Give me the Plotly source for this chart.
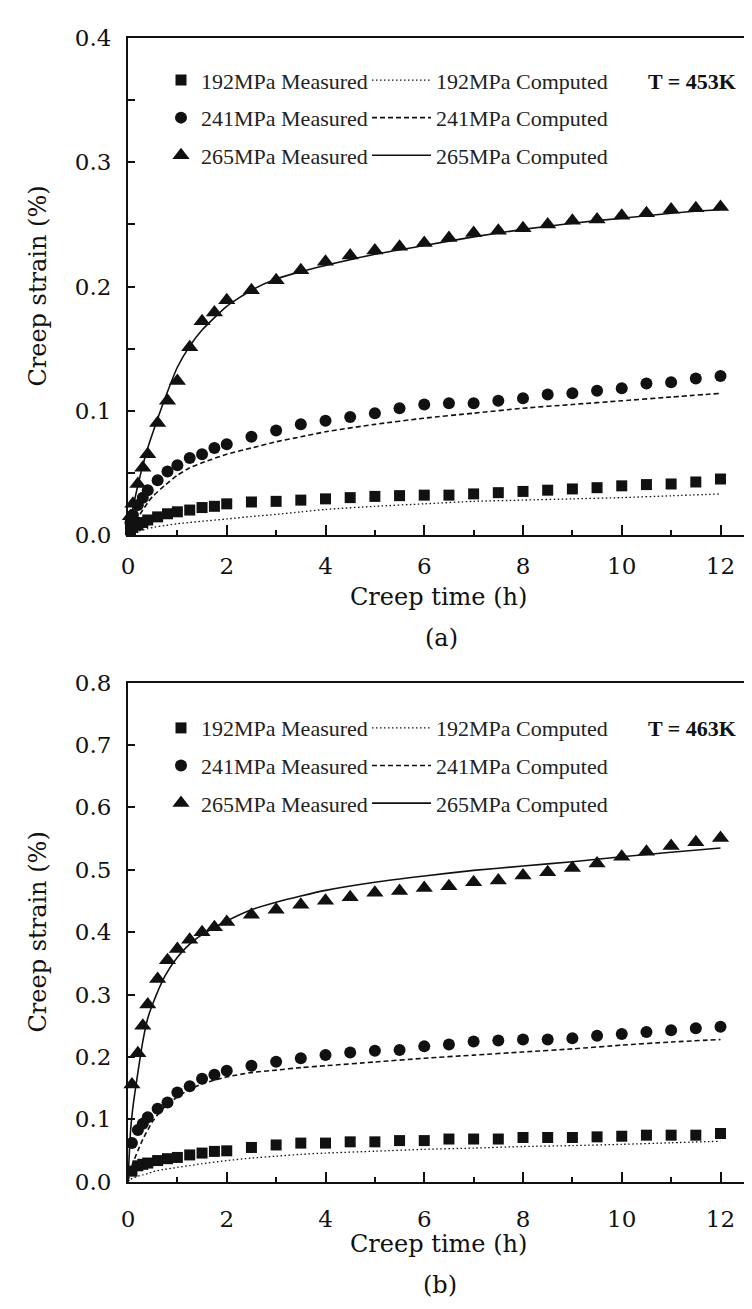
import plotly.graph_objects as go

# ---------------- data ----------------
# Panel (a): T = 453K
t_meas_a = [0.05, 0.1, 0.2, 0.3, 0.4, 0.6, 0.8, 1.0, 1.25, 1.5, 1.75,
            2.0, 2.5, 3.0, 3.5, 4.0, 4.5, 5.0, 5.5, 6.0, 6.5, 7.0, 7.5,
            8.0, 8.5, 9.0, 9.5, 10.0, 10.5, 11.0, 11.5, 12.0]
meas_192_a = [0.004, 0.006, 0.008, 0.010, 0.012, 0.0145, 0.017, 0.0186, 0.020, 0.022, 0.023,
              0.025, 0.0265, 0.027, 0.028, 0.029, 0.030, 0.031, 0.0316, 0.032, 0.032, 0.033, 0.034,
              0.035, 0.036, 0.037, 0.038, 0.0395, 0.0405, 0.041, 0.0426, 0.045]
meas_241_a = [0.010, 0.016, 0.024, 0.030, 0.036, 0.044, 0.051, 0.056, 0.062, 0.065, 0.070,
              0.073, 0.079, 0.084, 0.089, 0.092, 0.095, 0.098, 0.102, 0.105, 0.106, 0.106, 0.108,
              0.110, 0.113, 0.114, 0.116, 0.118, 0.122, 0.123, 0.126, 0.128]
meas_265_a = [0.015, 0.025, 0.041, 0.054, 0.065, 0.090, 0.108, 0.124, 0.151, 0.172, 0.179,
              0.189, 0.197, 0.205, 0.213, 0.220, 0.225, 0.229, 0.232, 0.235, 0.239, 0.243, 0.245,
              0.247, 0.250, 0.253, 0.254, 0.257, 0.259, 0.262, 0.263, 0.264]

t_comp = [0, 0.05, 0.1, 0.2, 0.3, 0.4, 0.5, 0.75, 1.0, 1.25, 1.5, 2, 2.5, 3, 3.5, 4,
          5, 6, 7, 8, 9, 10, 11, 12]
comp_192_a = [0, 0.001, 0.002, 0.003, 0.004, 0.005, 0.006, 0.0075, 0.009, 0.010, 0.011, 0.0128,
              0.0148, 0.0165, 0.0185, 0.0205, 0.023, 0.025, 0.027, 0.028, 0.029, 0.030, 0.0315, 0.033]
comp_241_a = [0, 0.004, 0.008, 0.014, 0.020, 0.026, 0.031, 0.040, 0.048, 0.054, 0.058, 0.065,
              0.070, 0.075, 0.079, 0.083, 0.089, 0.094, 0.098, 0.102, 0.105, 0.108, 0.111, 0.114]
comp_265_a = [0, 0.012, 0.022, 0.040, 0.056, 0.070, 0.082, 0.110, 0.135, 0.152, 0.165, 0.184,
              0.197, 0.206, 0.212, 0.217, 0.226, 0.233, 0.240, 0.246, 0.251, 0.255, 0.259, 0.262]

# Panel (b): T = 463K
t_meas_b = [0.08, 0.2, 0.3, 0.4, 0.6, 0.8, 1.0, 1.25, 1.5, 1.75,
            2.0, 2.5, 3.0, 3.5, 4.0, 4.5, 5.0, 5.5, 6.0, 6.5, 7.0, 7.5,
            8.0, 8.5, 9.0, 9.5, 10.0, 10.5, 11.0, 11.5, 12.0]
meas_192_b = [0.017, 0.0256, 0.028, 0.030, 0.034, 0.037, 0.039, 0.043, 0.046, 0.0487,
              0.0496, 0.055, 0.059, 0.062, 0.062, 0.064, 0.064, 0.066, 0.066, 0.0685, 0.0685, 0.0685,
              0.071, 0.071, 0.071, 0.072, 0.073, 0.0747, 0.0747, 0.0747, 0.0774]
meas_241_b = [0.062, 0.083, 0.093, 0.1036, 0.117, 0.127, 0.143, 0.153, 0.165, 0.1716,
              0.178, 0.186, 0.1925, 0.198, 0.203, 0.207, 0.210, 0.211, 0.217, 0.220, 0.225, 0.2265,
              0.228, 0.228, 0.230, 0.234, 0.237, 0.240, 0.243, 0.246, 0.2485]
meas_265_b = [0.156, 0.206, 0.250, 0.284, 0.325, 0.355, 0.373, 0.388, 0.400, 0.408,
              0.4165, 0.428, 0.436, 0.444, 0.4505, 0.456, 0.463, 0.466, 0.471, 0.4735, 0.480, 0.483,
              0.491, 0.496, 0.503, 0.510, 0.521, 0.529, 0.538, 0.544, 0.551]

comp_192_b = [0, 0.004, 0.006, 0.009, 0.011, 0.013, 0.016, 0.020, 0.023, 0.026, 0.029, 0.034,
              0.038, 0.041, 0.044, 0.046, 0.049, 0.052, 0.054, 0.0565, 0.058, 0.060, 0.0625, 0.065]
comp_241_b = [0, 0.018, 0.03, 0.05, 0.068, 0.083, 0.097, 0.121, 0.136, 0.148, 0.157, 0.168,
              0.175, 0.179, 0.183, 0.186, 0.192, 0.198, 0.203, 0.208, 0.213, 0.219, 0.224, 0.228]
comp_265_b = [0, 0.08, 0.12, 0.175, 0.225, 0.262, 0.285, 0.330, 0.360, 0.381, 0.396, 0.418,
              0.436, 0.448, 0.458, 0.467, 0.480, 0.490, 0.499, 0.506, 0.513, 0.521, 0.528, 0.535]

stresses = ["192MPa", "241MPa", "265MPa"]
x_ticks = [0, 2, 4, 6, 8, 10, 12]

# ---------------- figure ----------------
W, H = 752, 1309
ML = 120
PW = W - ML
INK = "#111111"
SERIF = "DejaVu Serif"
TIMES = "Liberation Serif"

symbols = ["square", "circle", "triangle-up"]
msizes = [11, 12, 15]
dashes = ["1.5px,2.5px", "5px,3px", "solid"]
lwidths = [1.3, 1.6, 1.6]

panels = [
    dict(xa="x", ya="y", t=t_meas_a, meas=[meas_192_a, meas_241_a, meas_265_a],
         comp=[comp_192_a, comp_241_a, comp_265_a], lm="legend", lc="legend2"),
    dict(xa="x2", ya="y2", t=t_meas_b, meas=[meas_192_b, meas_241_b, meas_265_b],
         comp=[comp_192_b, comp_241_b, comp_265_b], lm="legend3", lc="legend4"),
]

fig = go.Figure()
for p in panels:
    for i, s in enumerate(stresses):
        fig.add_trace(go.Scatter(
            x=t_comp, y=p["comp"][i], mode="lines", name=f"{s} Computed",
            xaxis=p["xa"], yaxis=p["ya"], legend=p["lc"], legendgroup=p["lc"] + s,
            line=dict(color=INK, width=lwidths[i], dash=dashes[i], shape="spline", smoothing=0.6),
        ))
    for i, s in enumerate(stresses):
        fig.add_trace(go.Scatter(
            x=p["t"], y=p["meas"][i], mode="markers", name=f"{s} Measured",
            xaxis=p["xa"], yaxis=p["ya"], legend=p["lm"], legendgroup=p["lm"] + s,
            cliponaxis=False,
            marker=dict(symbol=symbols[i], size=msizes[i], color=INK, line=dict(width=0)),
        ))


def py(px):
    return 1 - px / H


def pxx(px):
    return (px - ML) / PW


top_dom = [py(524.3), py(17.5)]
bot_dom = [py(1184.3), py(675.0)]

axis_common = dict(
    showline=True, linecolor=INK, linewidth=2, showgrid=False, zeroline=False,
    ticks="inside", tickcolor=INK, tickwidth=1.5,
    tickfont=dict(family=SERIF, size=23, color=INK),
)

x_common = dict(axis_common, range=[0, 12.8], tickvals=x_ticks, ticklen=10, mirror=True,
                minor=dict(dtick=1, tick0=0, ticks="inside", ticklen=5, tickwidth=1.5, tickcolor=INK))

fig.update_layout(
    width=W, height=H,
    margin=dict(l=ML, r=0, t=0, b=0),
    paper_bgcolor="white", plot_bgcolor="white",
    showlegend=True,
    xaxis=dict(x_common, domain=[0, 1], anchor="y", ticklabelstandoff=10),
    xaxis2=dict(x_common, domain=[0, 1], anchor="y2", ticklabelstandoff=16),
    yaxis=dict(axis_common, domain=top_dom, anchor="x", range=[0, 0.4], dtick=0.1, tick0=0,
               tickformat=".1f", ticklen=7, ticklabelstandoff=10,
               minor=dict(dtick=0.05, tick0=0, ticks="inside", ticklen=7, tickwidth=1.5, tickcolor=INK)),
    yaxis2=dict(axis_common, domain=bot_dom, anchor="x2", range=[0, 0.8], dtick=0.1, tick0=0,
                tickformat=".1f", ticklen=7, ticklabelstandoff=10),
)

legend_common = dict(font=dict(family=TIMES, size=22, color="#222222"), bgcolor="rgba(0,0,0,0)",
                     borderwidth=0, orientation="v", xanchor="left", yanchor="top",
                     tracegroupgap=6, itemsizing="trace")
fig.update_layout(
    legend=dict(legend_common, x=pxx(153), y=py(39)),
    legend2=dict(legend_common, x=pxx(359), y=py(39), itemwidth=59),
    legend3=dict(legend_common, x=pxx(153), y=py(700)),
    legend4=dict(legend_common, x=pxx(359), y=py(700), itemwidth=59),
)

annotations = [
    dict(text="<b>T = 453K</b>", x=pxx(684), y=py(62)),
    dict(text="<b>T = 463K</b>", x=pxx(684), y=py(722)),
]
for a in annotations:
    a.update(xref="paper", yref="paper", showarrow=False, xanchor="center", yanchor="middle",
             font=dict(family=TIMES, size=22, color=INK))
titles = [
    dict(text="Creep strain (%)", x=pxx(30), y=py(271), textangle=-90),
    dict(text="Creep strain (%)", x=pxx(30), y=py(930), textangle=-90),
    dict(text="Creep time (h)", x=pxx(430), y=py(588)),
    dict(text="Creep time (h)", x=pxx(430), y=py(1248)),
    dict(text="(a)", x=pxx(433), y=py(630)),
    dict(text="(b)", x=pxx(432), y=py(1290)),
]
for a in titles:
    a.update(xref="paper", yref="paper", showarrow=False, xanchor="center", yanchor="middle",
             font=dict(family=SERIF, size=24, color=INK))
fig.update_layout(annotations=annotations + titles)

fig.write_html("out.html")
